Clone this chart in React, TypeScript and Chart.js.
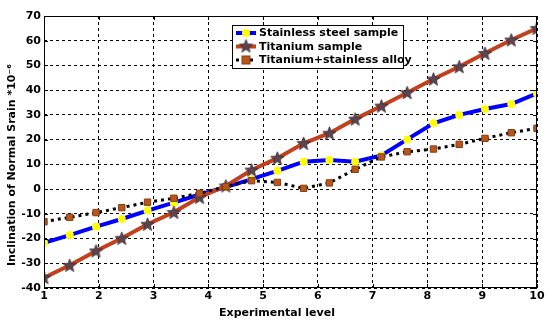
import React, { useEffect, useRef } from "react";
import { Chart, registerables } from "chart.js";

Chart.register(...registerables);

const levels = [1, 1.47, 1.95, 2.42, 2.89, 3.37, 3.84, 4.32, 4.79, 5.26, 5.74, 6.21, 6.68, 7.16, 7.63, 8.11, 8.58, 9.05, 9.53, 10];
const stainless = [-21.7, -18.6, -15.2, -12.1, -8.7, -5.5, -2.2, 0.8, 4, 7.4, 11.1, 11.8, 11.1, 13.6, 20.1, 26.6, 30, 32.4, 34.4, 38.7];
const titanium = [-35.8, -30.8, -25, -19.9, -14.2, -9.4, -3.3, 1.3, 7.7, 12.5, 18.5, 22.6, 28.3, 33.6, 39, 44.5, 49.5, 54.9, 60.3, 65];
const alloy = [-13.2, -11.4, -9.5, -7.5, -5.3, -3.7, -1.7, 1, 3.4, 2.7, 0.3, 2.5, 8, 13, 15.1, 16.2, 18.1, 20.5, 22.8, 24.6];
const seriesNames = ["Stainless steel sample", "Titanium sample", "Titanium+stainless alloy"];
const xTitle = "Experimental level";
const yTitle = "Inclination of Normal Srain *10\u207B\u2076";

function makeStar(size: number) {
  const c = document.createElement("canvas");
  c.width = size;
  c.height = size;
  const ctx = c.getContext("2d")!;
  const cx = size / 2, cy = size / 2 + 0.5;
  const R = size / 2 - 0.5, r = R * 0.42;
  ctx.beginPath();
  for (let i = 0; i < 10; i++) {
    const a = -Math.PI / 2 + (i * Math.PI) / 5;
    const rr = i % 2 === 0 ? R : r;
    const px = cx + rr * Math.cos(a), py = cy + rr * Math.sin(a);
    if (i === 0) ctx.moveTo(px, py); else ctx.lineTo(px, py);
  }
  ctx.closePath();
  ctx.fillStyle = "#5b4650";
  ctx.fill();
  ctx.strokeStyle = "#3d2c34";
  ctx.lineWidth = 0.8;
  ctx.stroke();
  return c;
}

const FONT = "'DejaVu Sans', Verdana, sans-serif";

export default function App() {
  const ref = useRef<HTMLCanvasElement>(null);
  useEffect(() => {
    const star = makeStar(15);
    const pts = (arr: number[]) => arr.map((v, i) => ({ x: levels[i], y: v }));

    const framePlugin = {
      id: "frame",
      afterDatasetsDraw(chart: any) {
        const { ctx, chartArea: a, scales } = chart;
        ctx.save();
        ctx.strokeStyle = "#000";
        ctx.lineWidth = 1;
        ctx.setLineDash([]);
        ctx.strokeRect(a.left + 0.5, a.top + 0.5, a.right - a.left - 1, a.bottom - a.top - 1);
        ctx.beginPath();
        scales.x.ticks.forEach((t: any) => {
          const px = Math.round(scales.x.getPixelForValue(t.value)) + 0.5;
          ctx.moveTo(px, a.bottom); ctx.lineTo(px, a.bottom - 4);
          ctx.moveTo(px, a.top); ctx.lineTo(px, a.top + 4);
        });
        scales.y.ticks.forEach((t: any) => {
          const py = Math.round(scales.y.getPixelForValue(t.value)) + 0.5;
          ctx.moveTo(a.left, py); ctx.lineTo(a.left + 4, py);
          ctx.moveTo(a.right, py); ctx.lineTo(a.right - 4, py);
        });
        ctx.stroke();

        // axis titles
        ctx.fillStyle = "#000";
        ctx.font = `bold 11px ${FONT}`;
        ctx.textAlign = "center";
        ctx.textBaseline = "middle";
        ctx.fillText(xTitle, 277, 313);
        ctx.save();
        ctx.translate(12, 165);
        ctx.rotate(-Math.PI / 2);
        ctx.fillText(yTitle, 0, 0);
        ctx.restore();
        ctx.textAlign = "left";

        // legend box
        const bx = 232, by = 25, bw = 171, bh = 43;
        ctx.fillStyle = "#fff";
        ctx.fillRect(bx, by, bw, bh);
        ctx.strokeRect(bx + 0.5, by + 0.5, bw, bh);
        ctx.font = `bold 11px ${FONT}`;
        ctx.textBaseline = "middle";
        const rowY = [33, 46.5, 60];
        chart.data.datasets.forEach((ds: any, i: number) => {
          const y = rowY[i];
          ctx.save();
          ctx.strokeStyle = ds.borderColor;
          ctx.lineWidth = ds.borderWidth;
          ctx.setLineDash(ds.borderDash || []);
          ctx.beginPath();
          ctx.moveTo(236, y); ctx.lineTo(256, y);
          ctx.stroke();
          ctx.setLineDash([]);
          const mx = 246;
          if (i === 0) {
            ctx.fillStyle = ds.pointBackgroundColor;
            ctx.beginPath(); ctx.arc(mx, y, 4, 0, Math.PI * 2); ctx.fill();
          } else if (i === 1) {
            ctx.drawImage(star, mx - 7.5, y - 8);
          } else {
            ctx.fillStyle = ds.pointBackgroundColor;
            ctx.fillRect(mx - 4, y - 4, 8, 8);
            ctx.strokeStyle = ds.pointBorderColor;
            ctx.lineWidth = 1;
            ctx.strokeRect(mx - 4, y - 4, 8, 8);
          }
          ctx.restore();
          ctx.fillStyle = "#000";
          ctx.fillText(ds.label, 259, y + 0.5);
        });
        ctx.restore();
      },
    };

    const chart = new Chart(ref.current!, {
      type: "line",
      data: {
        datasets: [
          {
            label: seriesNames[0],
            data: pts(stainless),
            borderColor: "#0000ff",
            borderWidth: 4,
            pointStyle: "circle",
            pointRadius: 4,
            pointBackgroundColor: "#ffff00",
            pointBorderColor: "#ffff00",
            pointBorderWidth: 0,
            order: 3,
          },
          {
            label: seriesNames[1],
            data: pts(titanium),
            borderColor: "#c2401c",
            borderWidth: 4,
            pointStyle: star as any,
            pointRadius: 7,
            order: 2,
          },
          {
            label: seriesNames[2],
            data: pts(alloy),
            borderColor: "#000000",
            borderWidth: 3,
            borderDash: [3, 4],
            pointStyle: "rect",
            pointRadius: 4.5,
            pointBackgroundColor: "#b8561c",
            pointBorderColor: "#8a3e12",
            pointBorderWidth: 1,
            order: 1,
          },
        ],
      },
      options: {
        responsive: false,
        animation: false,
        events: [],
        layout: { padding: { left: 0, top: 16, right: 13, bottom: 0 } },
        plugins: { legend: { display: false }, tooltip: { enabled: false } },
        scales: {
          x: {
            type: "linear",
            min: 1,
            max: 10,
            ticks: { stepSize: 1, color: "#000", font: { family: FONT, size: 11, weight: "bold" }, padding: 2 },
            grid: { color: "#000", lineWidth: 1, drawTicks: false },
            border: { display: false, dash: [3, 3] },
            title: { display: false },
            afterFit: (s: any) => { s.height = 37; },
          },
          y: {
            type: "linear",
            min: -40,
            max: 70,
            ticks: { stepSize: 10, color: "#000", font: { family: FONT, size: 11, weight: "bold" }, padding: 3 },
            grid: { color: "#000", lineWidth: 1, drawTicks: false },
            border: { display: false, dash: [3, 3] },
            title: { display: false },
            afterFit: (s: any) => { s.width = 44; },
          },
        },
      } as any,
      plugins: [framePlugin],
    });
    return () => chart.destroy();
  }, []);

  return (
    <div style={{ position: "fixed", left: 0, top: 0, width: 550, height: 325, background: "#fff" }}>
      <canvas ref={ref} width={550} height={325} style={{ display: "block" }} />
    </div>
  );
}
